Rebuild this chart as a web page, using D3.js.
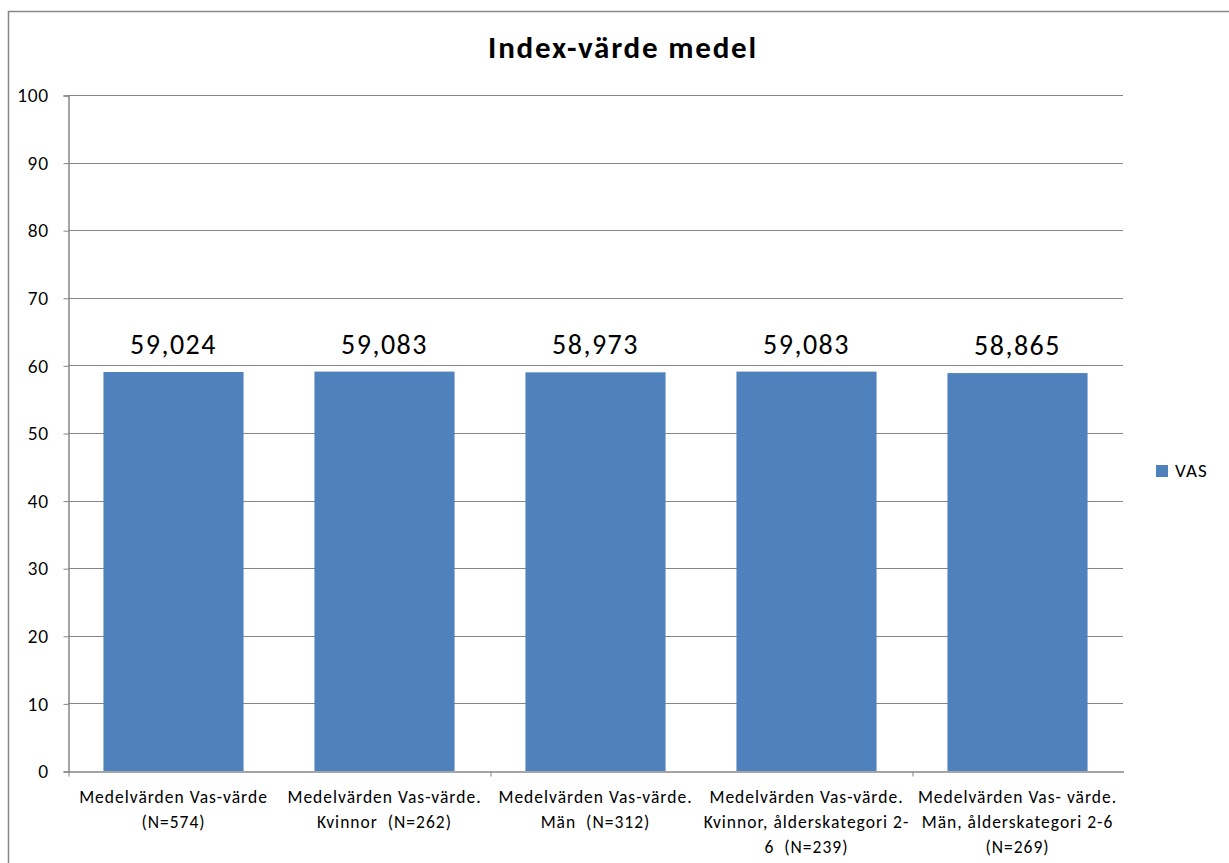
<!DOCTYPE html>
<html>
<head>
<meta charset="utf-8">
<script src="https://cdn.jsdelivr.net/npm/d3@7"></script>
<style>
  html, body { margin: 0; padding: 0; background: #fff; }
  svg { display: block; }
  text { font-family: Carlito, Calibri, Lato, sans-serif; fill: #000; }
</style>
</head>
<body>
<svg id="chart" width="1229" height="863"></svg>
<script>
// ---- data ----
const title = "Index-värde medel";
const categories = [
  ["Medelvärden Vas-värde", "(N=574)"],
  ["Medelvärden Vas-värde.", "Kvinnor  (N=262)"],
  ["Medelvärden Vas-värde.", "Män  (N=312)"],
  ["Medelvärden Vas-värde.", "Kvinnor, ålderskategori 2-", "6  (N=239)"],
  ["Medelvärden Vas- värde.", "Män, ålderskategori 2-6", "(N=269)"]
];
const seriesName = "VAS";
const values = [59.024, 59.083, 58.973, 59.083, 58.865];
const yTicks = [0, 10, 20, 30, 40, 50, 60, 70, 80, 90, 100];

// ---- layout ----
const svg = d3.select("#chart");
const pLeft = 68, pRight = 1123, pTop = 95, pBottom = 771;
const barColor = "#4F81BD";
const gridColor = "#868686";

// outer frame (extends beyond viewport on right/bottom)
svg.append("rect")
  .attr("x", 8.5).attr("y", 11.5)
  .attr("width", 1400).attr("height", 1000)
  .attr("fill", "none").attr("stroke", "#878787").attr("stroke-width", 1.5);

const x = d3.scaleBand()
  .domain(d3.range(categories.length))
  .range([pLeft, pRight])
  .paddingInner(0.336).paddingOuter(0.168);

const y = d3.scaleLinear().domain([0, 100]).range([pBottom, pTop]);

// gridlines
svg.append("g")
  .selectAll("line")
  .data(yTicks.filter(t => t > 0))
  .join("line")
  .attr("x1", pLeft).attr("x2", pRight)
  .attr("y1", d => Math.round(y(d)) + 0.5).attr("y2", d => Math.round(y(d)) + 0.5)
  .attr("stroke", gridColor).attr("stroke-width", 1);

// bars
svg.append("g")
  .selectAll("rect")
  .data(values)
  .join("rect")
  .attr("x", (d, i) => x(i))
  .attr("y", d => y(d))
  .attr("width", x.bandwidth())
  .attr("height", d => y(0) - y(d))
  .attr("fill", barColor);

// y axis
const yAxis = d3.axisLeft(y).tickValues(yTicks).tickSize(5).tickPadding(15).tickFormat(d3.format("d"));
const gy = svg.append("g").attr("transform", `translate(${pLeft + 0.5},0.5)`).call(yAxis);
gy.select(".domain").attr("stroke", gridColor).attr("stroke-width", 1.5);
gy.selectAll(".tick line").attr("stroke", gridColor).attr("stroke-width", 1);
gy.selectAll(".tick text")
  .style("font-family", "Lato, sans-serif")
  .style("font-size", "17px").style("letter-spacing", "0.5px").attr("dy", "0.36em");

// x axis (boundary ticks every 2 categories)
const xb = d3.scaleLinear().domain([0, categories.length]).range([pLeft, pRight]);
const xAxis = d3.axisBottom(xb).tickValues([0, 2, 4]).tickSize(5).tickSizeOuter(0).tickFormat("");
const gx = svg.append("g").attr("transform", `translate(0.5,${pBottom + 0.5})`).call(xAxis);
gx.select(".domain").attr("stroke", gridColor).attr("stroke-width", 1.5);
gx.selectAll(".tick line").attr("stroke", gridColor).attr("stroke-width", 1);

// category labels
const labels = svg.append("g");
categories.forEach((lines, i) => {
  const cx = x(i) + x.bandwidth() / 2;
  const t = labels.append("text")
    .attr("text-anchor", "middle")
    .style("font-size", "17.5px")
    .style("letter-spacing", "1px")
    .style("white-space", "pre");
  lines.forEach((ln, j) => {
    t.append("tspan").attr("x", cx).attr("y", 803 + j * 25).text(ln);
  });
});

// value labels
const loc = d3.formatLocale({decimal: ",", thousands: " ", grouping: [3], currency: ["", ""]});
const fmt = loc.format(".3f");
svg.append("g")
  .selectAll("text")
  .data(values)
  .join("text")
  .attr("x", (d, i) => x(i) + x.bandwidth() / 2)
  .attr("y", d => y(d) - 18)
  .attr("text-anchor", "middle")
  .style("font-size", "28px")
  .style("letter-spacing", "1.5px")
  .text(d => fmt(d));

// title
svg.append("text")
  .attr("x", 623).attr("y", 58)
  .attr("text-anchor", "middle")
  .style("font-size", "31px").style("font-weight", "bold")
  .style("letter-spacing", "1.8px")
  .text(title);

// legend
svg.append("rect").attr("x", 1156).attr("y", 465).attr("width", 12).attr("height", 12).attr("fill", barColor);
svg.append("text").attr("x", 1175).attr("y", 477).style("font-size", "19px").style("letter-spacing", "1px").text(seriesName);
</script>
</body>
</html>
